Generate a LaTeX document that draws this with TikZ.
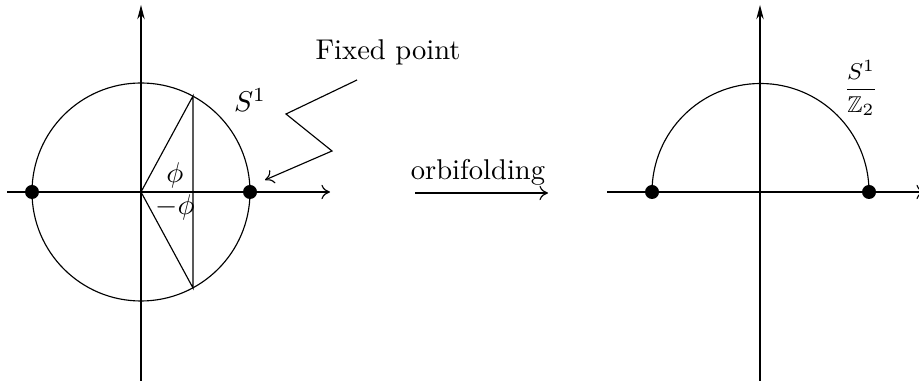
\documentclass[tikz,border=0pt]{standalone}
\usepackage{amssymb,amsmath}
\usetikzlibrary{arrows.meta}
\begin{document}
\begin{tikzpicture}[x=0.35pt,y=-0.35pt,line width=0.4pt,
  dot/.style={circle,fill=black,inner sep=0pt,minimum size=14*0.35pt},
  vax/.style={-{Stealth[length=5pt,width=2.6pt]}},
  hax/.style={-{To[length=3pt,width=5pt]}},
  lbl/.style={font=\fontsize{10}{12}\selectfont,inner sep=0pt}]
\useasboundingbox (0,0) rectangle (919,381);
% left figure
\coordinate (O1) at (141,192);
\coordinate (v1b) at (141,381);
\coordinate (v1t) at (141,5);
\coordinate (h1l) at (7,192);
\coordinate (h1r) at (330,192);
\draw[vax] (v1b) -- (v1t);
\draw[hax] (h1l) -- (h1r);
\draw (O1) circle[radius=109];
\coordinate (A) at (193,96);
\coordinate (B) at (193,288);
\draw (O1) -- (A) -- (B) -- cycle;
\node[dot] (d1) at (32,192) {};
\node[dot] (d2) at (250,192) {};
\node[lbl] (phi) at (175,175) {$\phi$};
\node[lbl] (mphi) at (175,207) {$-\phi$};
\node[lbl] (s1) at (250,100) {$S^1$};
\node[lbl] (fp) at (388,52) {Fixed point};
\coordinate (z1) at (357,80);
\coordinate (z2) at (286,114);
\coordinate (z3) at (332,151);
\coordinate (z4) at (265,180);
\draw[hax] (z1) -- (z2) -- (z3) -- (z4);
% middle arrow
\node[lbl] (orb) at (478,172) {orbifolding};
\coordinate (m1) at (415,193);
\coordinate (m2) at (548,193);
\draw[hax] (m1) -- (m2);
% right figure
\coordinate (O2) at (760,192);
\coordinate (v2b) at (760,381);
\coordinate (v2t) at (760,5);
\coordinate (h2l) at (607,192);
\coordinate (h2r) at (925,192);
\draw[vax] (v2b) -- (v2t);
\draw[hax] (h2l) -- (h2r);
\draw (869,192) arc[start angle=0,end angle=-180,radius=108.5];
\node[dot] (d3) at (652,192) {};
\node[dot] (d4) at (869,192) {};
\node[lbl,font=\fontsize{8}{10}\selectfont] (s1z) at (861,88) {$\dfrac{S^1}{\mathbb{Z}_2}$};
\end{tikzpicture}
\end{document}
